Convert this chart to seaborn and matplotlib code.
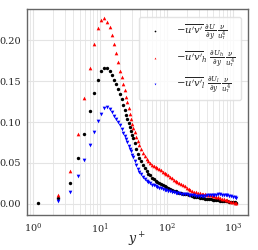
import numpy as np
import pandas as pd
import matplotlib
matplotlib.use("Agg")
import matplotlib.pyplot as plt
import seaborn as sns

# --- Data ---
# near-wall grid points y+ = 1.17 k, then a denser tail
y_near = [1.17, 2.34, 3.51, 4.68, 5.85, 7.02, 8.19, 9.36, 10.53, 11.7, 12.87, 14.04,
          15.21, 16.38, 17.55, 18.72, 19.89, 21.06, 22.23, 23.4, 24.57, 25.74, 26.91,
          28.08, 29.25, 30.42, 31.59]
y_tail = [33, 35, 37, 39, 41, 44, 47, 50, 53, 56, 60, 64, 68, 72, 77, 82, 87, 93, 99,
          105, 112, 120, 128, 136, 145, 155, 165, 176, 188, 200, 213, 227, 242, 258,
          275, 293, 312, 333, 355, 378, 403, 430, 458, 488, 520, 554, 590, 629, 670,
          714, 761, 811, 864, 921, 981, 1045, 1100]

total_near = [0.001, 0.007, 0.026, 0.056, 0.086, 0.113, 0.136, 0.152, 0.162, 0.166, 0.166,
              0.162, 0.157, 0.151, 0.146, 0.140, 0.134, 0.128, 0.121, 0.115, 0.109, 0.104,
              0.099, 0.094, 0.089, 0.084, 0.080]
total_tail = [0.074, 0.067, 0.061, 0.056, 0.052, 0.048, 0.044, 0.040, 0.037, 0.035, 0.032,
              0.030, 0.0285, 0.027, 0.0258, 0.0245, 0.0232, 0.0218, 0.0205, 0.0193, 0.0182,
              0.0170, 0.0160, 0.0152, 0.0145, 0.0138, 0.0132, 0.0126, 0.0120, 0.0115,
              0.0109, 0.0102, 0.0095, 0.0089, 0.0084, 0.0079, 0.0075, 0.0071, 0.0067,
              0.0063, 0.0060, 0.0057, 0.0054, 0.0050, 0.0047, 0.0045, 0.0042, 0.0039,
              0.0036, 0.0033, 0.0031, 0.0029, 0.0026, 0.0023, 0.0020, 0.0017, 0.0014]

high_near = [0.011, 0.040, 0.086, 0.130, 0.166, 0.195, 0.215, 0.225, 0.227, 0.223, 0.216,
             0.206, 0.196, 0.185, 0.174, 0.163, 0.155, 0.147, 0.139, 0.131, 0.124, 0.117,
             0.110, 0.104, 0.098, 0.093]
high_tail = [0.088, 0.082, 0.077, 0.072, 0.067, 0.062, 0.058, 0.055, 0.052, 0.050, 0.048,
             0.0465, 0.045, 0.0435, 0.042, 0.041, 0.0395, 0.038, 0.0365, 0.035, 0.033,
             0.031, 0.029, 0.028, 0.027, 0.0258, 0.0245, 0.0228, 0.0212, 0.0198, 0.0185,
             0.0170, 0.0158, 0.0148, 0.0140, 0.0133, 0.0127, 0.0122, 0.0118, 0.0114,
             0.0110, 0.0106, 0.0102, 0.0098, 0.0094, 0.0088, 0.0080, 0.0072, 0.0064,
             0.0056, 0.0049, 0.0042, 0.0034, 0.0026, 0.0018, 0.0010, 0.0005]

low_near = [0.004, 0.015, 0.034, 0.053, 0.072, 0.088, 0.101, 0.110, 0.117, 0.118, 0.116,
            0.112, 0.108, 0.104, 0.100, 0.096, 0.091, 0.087, 0.083, 0.079, 0.075, 0.071,
            0.067, 0.064, 0.060, 0.057]
low_tail = [0.052, 0.047, 0.043, 0.039, 0.036, 0.033, 0.030, 0.028, 0.0265, 0.025, 0.0235,
            0.0225, 0.0215, 0.0205, 0.0196, 0.0188, 0.0180, 0.0172, 0.0165, 0.0159, 0.0153,
            0.0147, 0.0142, 0.0137, 0.0133, 0.0129, 0.0125, 0.0121, 0.0117, 0.0114,
            0.0111, 0.0108, 0.0105, 0.0102, 0.0100, 0.0098, 0.0097, 0.0097, 0.0098,
            0.0100, 0.0103, 0.0106, 0.0108, 0.0110, 0.0112, 0.0113, 0.0114, 0.0114,
            0.0113, 0.0111, 0.0108, 0.0104, 0.0099, 0.0094, 0.0088, 0.0082, 0.0076]

labels = [r"$-\overline{u^\prime v^\prime}\ \frac{\partial U}{\partial y}\,\frac{\nu}{u_\tau^4}$",
          r"$-\overline{u^\prime v^\prime}_h\ \frac{\partial U_h}{\partial y}\,\frac{\nu}{u_\tau^4}$",
          r"$-\overline{u^\prime v^\prime}_l\ \frac{\partial U_l}{\partial y}\,\frac{\nu}{u_\tau^4}$"]

df_total = pd.DataFrame({"y": y_near + y_tail, "v": total_near + total_tail})
df_high = pd.DataFrame({"y": y_near[1:] + y_tail, "v": high_near + high_tail})
df_low = pd.DataFrame({"y": y_near[1:] + y_tail, "v": low_near + low_tail})

# --- Style ---
sns.set_style("whitegrid")
plt.rcParams["font.family"] = ["DejaVu Serif"]
plt.rcParams["mathtext.fontset"] = "dejavuserif"

fig = plt.figure(figsize=(2.58, 2.50), dpi=100)
ax = fig.add_axes([0.105, 0.140, 0.856, 0.823])

sns.scatterplot(data=df_total, x="y", y="v", color="black", marker="o", s=6,
                linewidth=0, label=labels[0], ax=ax, zorder=3)
sns.scatterplot(data=df_high, x="y", y="v", color="red", marker="^", s=7,
                linewidth=0, label=labels[1], ax=ax, zorder=3)
sns.scatterplot(data=df_low, x="y", y="v", color="blue", marker="v", s=7,
                linewidth=0, label=labels[2], ax=ax, zorder=3)

ax.set_xscale("log")
ax.set_xlim(0.81, 1650)
ax.set_ylim(-0.0137, 0.238)
ax.set_yticks([0.0, 0.05, 0.10, 0.15, 0.20])
ax.set_yticklabels(["0.00", "0.05", "0.10", "0.15", "0.20"])
ax.set_xlabel(r"$y^+$", fontsize=9)
ax.xaxis.set_label_coords(0.5, -0.075)
ax.set_ylabel("")
ax.tick_params(labelsize=7, pad=1)
ax.grid(True, which="major", color="#e4e4e4", linewidth=0.8)
ax.grid(True, which="minor", axis="x", color="#e4e4e4", linewidth=0.6)
for sp in ax.spines.values():
    sp.set_color("#666666")
    sp.set_linewidth(1.0)

leg = ax.legend(loc="upper right", fontsize=7.2, frameon=True, markerscale=0.5,
                handlelength=2.2, handletextpad=1.0, borderpad=0.5, labelspacing=0.6,
                bbox_to_anchor=(0.99, 0.985))
leg.get_frame().set_edgecolor("#dddddd")

fig.savefig("out.png", dpi=100)
